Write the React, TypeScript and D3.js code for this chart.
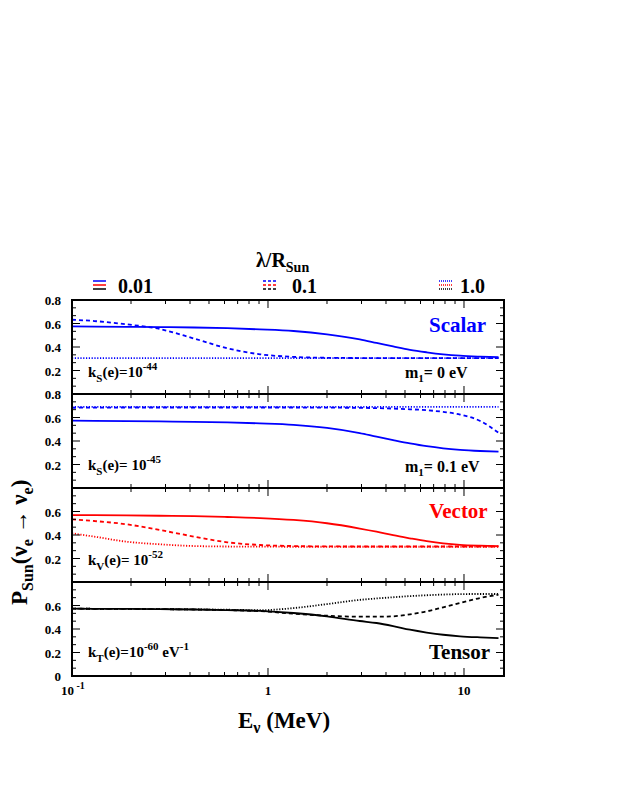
import React from 'react';
import * as d3 from 'd3';

// ---- data ----
const energies = [0.1, 0.13, 0.19, 0.28, 0.42, 0.62, 0.91, 1.35, 2, 2.94, 3.58, 4.35, 5.3, 6.45, 7.83, 9.55, 12.1, 15];

// Scalar, m1 = 0 eV
const scalarM0_l001 = [0.575, 0.574, 0.572, 0.57, 0.566, 0.56, 0.55, 0.536, 0.508, 0.465, 0.435, 0.405, 0.376, 0.355, 0.338, 0.326, 0.318, 0.313];
const scalarM0_l01 = [0.632, 0.621, 0.593, 0.553, 0.472, 0.389, 0.338, 0.316, 0.308, 0.306, 0.305, 0.305, 0.305, 0.305, 0.305, 0.305, 0.305, 0.305];
const scalarM0_l1 = [0.305, 0.305, 0.305, 0.305, 0.305, 0.305, 0.305, 0.305, 0.305, 0.305, 0.305, 0.305, 0.305, 0.305, 0.305, 0.305, 0.305, 0.305];
// Scalar, m1 = 0.1 eV
const scalarM01_l001 = [0.573, 0.572, 0.57, 0.567, 0.563, 0.558, 0.55, 0.538, 0.512, 0.468, 0.437, 0.408, 0.38, 0.356, 0.338, 0.325, 0.315, 0.309];
const scalarM01_l01 = [0.683, 0.684, 0.685, 0.685, 0.685, 0.685, 0.685, 0.685, 0.684, 0.682, 0.68, 0.676, 0.67, 0.662, 0.648, 0.625, 0.57, 0.47];
const scalarM01_l1 = [0.69, 0.69, 0.69, 0.69, 0.69, 0.69, 0.69, 0.69, 0.69, 0.69, 0.69, 0.69, 0.69, 0.69, 0.69, 0.69, 0.69, 0.69];
// Vector
const vector_l001 = [0.57, 0.569, 0.567, 0.564, 0.56, 0.553, 0.544, 0.528, 0.5, 0.455, 0.428, 0.398, 0.372, 0.348, 0.329, 0.316, 0.309, 0.306];
const vector_l01 = [0.533, 0.519, 0.491, 0.443, 0.386, 0.338, 0.315, 0.306, 0.303, 0.302, 0.302, 0.302, 0.302, 0.302, 0.302, 0.302, 0.302, 0.302];
const vector_l1 = [0.414, 0.386, 0.343, 0.321, 0.306, 0.302, 0.301, 0.3, 0.3, 0.3, 0.3, 0.3, 0.3, 0.3, 0.3, 0.3, 0.3, 0.3];
// Tensor
const tensor_l001 = [0.573, 0.572, 0.571, 0.569, 0.566, 0.561, 0.554, 0.536, 0.508, 0.468, 0.451, 0.425, 0.394, 0.37, 0.351, 0.338, 0.329, 0.323];
const tensor_l01 = [0.573, 0.572, 0.571, 0.569, 0.566, 0.561, 0.552, 0.53, 0.513, 0.505, 0.505, 0.508, 0.525, 0.55, 0.585, 0.621, 0.664, 0.692];
const tensor_l1 = [0.573, 0.572, 0.571, 0.569, 0.567, 0.564, 0.56, 0.578, 0.612, 0.648, 0.66, 0.67, 0.68, 0.687, 0.693, 0.697, 0.698, 0.698];

const lambdaLabels = ['0.01', '0.1', '1.0'];
const panelYTicks = [
  [0.8, 0.6, 0.4, 0.2],
  [0.8, 0.6, 0.4, 0.2],
  [0.6, 0.4, 0.2],
  [0.6, 0.4, 0.2, 0],
];
const xMajor = [0.1, 1, 10];

// ---- layout ----
const W = 623, H = 806;
const L = 72, R = 504, T = 300, PH = 94;
const FONT = '"Liberation Serif", "Times New Roman", serif';
const BLUE = '#0000ff', RED = '#ff0000', BLACK = '#000000';

const dashFor: Record<string, string | undefined> = {
  '0.01': undefined,
  '0.1': '4,3',
  '1.0': '1.2,1.6',
};

type Series = { values: number[]; color: string; lambda: string };
const panels: Series[][] = [
  [
    { values: scalarM0_l001, color: BLUE, lambda: '0.01' },
    { values: scalarM0_l01, color: BLUE, lambda: '0.1' },
    { values: scalarM0_l1, color: BLUE, lambda: '1.0' },
  ],
  [
    { values: scalarM01_l001, color: BLUE, lambda: '0.01' },
    { values: scalarM01_l01, color: BLUE, lambda: '0.1' },
    { values: scalarM01_l1, color: BLUE, lambda: '1.0' },
  ],
  [
    { values: vector_l001, color: RED, lambda: '0.01' },
    { values: vector_l01, color: RED, lambda: '0.1' },
    { values: vector_l1, color: RED, lambda: '1.0' },
  ],
  [
    { values: tensor_l001, color: BLACK, lambda: '0.01' },
    { values: tensor_l01, color: BLACK, lambda: '0.1' },
    { values: tensor_l1, color: BLACK, lambda: '1.0' },
  ],
];

export default function App() {
  const x = d3.scaleLog().domain([0.1, 16]).range([L, R]);
  const yFor = (i: number) => d3.scaleLinear().domain([0, 0.8]).range([T + (i + 1) * PH, T + i * PH]);

  const xMinor: number[] = [];
  for (const dec of [0.1, 1, 10]) {
    for (let k = 2; k <= 9; k++) {
      const v = dec * k;
      if (v < 16) xMinor.push(v);
    }
  }
  const yMinor = d3.range(0, 13).map((k) => (k * 0.8) / 12);

  const bold = { fontFamily: FONT, fontWeight: 700 } as const;

  return (
    <svg width={W} height={H} style={{ position: 'absolute', left: 0, top: 0, background: '#fff' }}>
      <rect x={0} y={0} width={W} height={H} fill="#fff" />
      {/* legend */}
      <text x={256} y={267} fontSize={20} {...bold}>
        λ/R<tspan fontSize={14} dy={5}>Sun</tspan>
      </text>
      {lambdaLabels.map((lab, i) => {
        const ix = [93, 263, 439][i];
        const tx = [118, 292, 460][i];
        return (
          <g key={lab}>
            {[BLUE, RED, BLACK].map((c, j) => (
              <line key={c} x1={ix} x2={ix + 13} y1={281 + j * 4} y2={281 + j * 4} stroke={c} strokeWidth={1.5} strokeDasharray={i === 0 ? undefined : i === 1 ? '3,2' : '1,1'} />
            ))}
            <text x={tx} y={293} fontSize={20} {...bold}>{lab}</text>
          </g>
        );
      })}

      {panels.map((series, i) => {
        const y = yFor(i);
        const line = d3
          .line<number>()
          .x((_, k) => x(energies[k]))
          .y((v) => y(v))
          .curve(d3.curveMonotoneX);
        const top = T + i * PH, bot = T + (i + 1) * PH;
        return (
          <g key={i}>
            {series.map((s, j) => (
              <path key={j} d={line(s.values) || ''} fill="none" stroke={s.color} strokeWidth={1.8} strokeDasharray={dashFor[s.lambda]} />
            ))}
            {/* x ticks top and bottom */}
            {[...xMinor.map((v) => [v, 4]), ...xMajor.map((v) => [v, 8])].map(([v, len], k) => (
              <g key={'xt' + k}>
                <line x1={x(v)} x2={x(v)} y1={bot} y2={bot - len} stroke="#000" strokeWidth={1} />
                <line x1={x(v)} x2={x(v)} y1={top} y2={top + len} stroke="#000" strokeWidth={1} />
              </g>
            ))}
            {/* y ticks left and right */}
            {yMinor.map((v, k) => {
              const len = k % 3 === 0 ? 8 : 4;
              return (
                <g key={'yt' + k}>
                  <line x1={L} x2={L + len} y1={y(v)} y2={y(v)} stroke="#000" strokeWidth={1} />
                  <line x1={R} x2={R - len} y1={y(v)} y2={y(v)} stroke="#000" strokeWidth={1} />
                </g>
              );
            })}
            {panelYTicks[i].map((v) => (
              <text key={'yl' + v} x={61} y={y(v) + 5} fontSize={13} textAnchor="end" {...bold}>
                {v === 0 ? '0' : v.toFixed(1)}
              </text>
            ))}
            <rect x={L} y={top} width={R - L} height={PH} fill="none" stroke="#000" strokeWidth={2} />
          </g>
        );
      })}

      {/* panel annotations */}
      <text x={429} y={332} fontSize={21} fill={BLUE} {...bold}>Scalar</text>
      <text x={429} y={518} fontSize={21} fill={RED} {...bold}>Vector</text>
      <text x={429} y={659} fontSize={21} fill={BLACK} {...bold}>Tensor</text>

      <text x={405} y={378} fontSize={16} {...bold}>
        m<tspan fontSize={11} dy={4}>1</tspan><tspan dy={-4}>= 0 eV</tspan>
      </text>
      <text x={405} y={472} fontSize={16} {...bold}>
        m<tspan fontSize={11} dy={4}>1</tspan><tspan dy={-4}>= 0.1 eV</tspan>
      </text>

      <text x={88} y={377} fontSize={15} {...bold}>
        k<tspan fontSize={11} dy={5}>S</tspan><tspan dy={-5}>(e)=10</tspan><tspan fontSize={11} dy={-7}>-44</tspan>
      </text>
      <text x={88} y={470} fontSize={15} {...bold}>
        k<tspan fontSize={11} dy={5}>S</tspan><tspan dy={-5}>(e)= 10</tspan><tspan fontSize={11} dy={-7}>-45</tspan>
      </text>
      <text x={88} y={565} fontSize={15} {...bold}>
        k<tspan fontSize={11} dy={5}>V</tspan><tspan dy={-5}>(e)= 10</tspan><tspan fontSize={11} dy={-7}>-52</tspan>
      </text>
      <text x={88} y={657} fontSize={15} {...bold}>
        k<tspan fontSize={11} dy={5}>T</tspan><tspan dy={-5}>(e)=10</tspan><tspan fontSize={11} dy={-7}>-60</tspan><tspan dy={7}> eV</tspan><tspan fontSize={11} dy={-7}>-1</tspan>
      </text>

      {/* x tick labels */}
      <text x={61} y={695} fontSize={13} {...bold}>
        10<tspan fontSize={10} dy={-6}> -1</tspan>
      </text>
      <text x={x(1)} y={695} fontSize={13} textAnchor="middle" {...bold}>1</text>
      <text x={x(10)} y={695} fontSize={13} textAnchor="middle" {...bold}>10</text>

      {/* axis titles */}
      <text x={238} y={728} fontSize={23} {...bold}>
        E<tspan fontSize={16} dy={5}>ν</tspan><tspan dy={-5}> (MeV)</tspan>
      </text>
      <text transform="translate(27,605) rotate(-90)" fontSize={23} {...bold}>
        P<tspan fontSize={16} dy={6}>Sun</tspan><tspan dy={-6}>(ν</tspan><tspan fontSize={16} dy={6}>e</tspan><tspan dy={-6}> → ν</tspan><tspan fontSize={16} dy={6}>e</tspan><tspan dy={-6}>)</tspan>
      </text>
    </svg>
  );
}
